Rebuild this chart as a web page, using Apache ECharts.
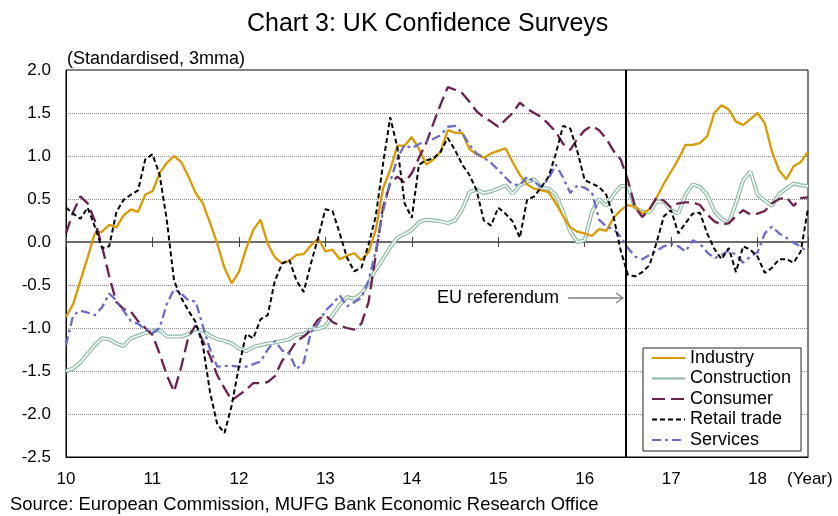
<!DOCTYPE html>
<html>
<head>
<meta charset="utf-8">
<script src="https://cdn.jsdelivr.net/npm/echarts@6/dist/echarts.min.js"></script>
<style>
  html, body { margin: 0; padding: 0; background: #fff; }
  #chart { width: 838px; height: 516px; }
</style>
</head>
<body>
<div id="chart"></div>
<script>
// Monthly survey balances, standardised, 3-month moving average; Jan 2010 onwards
const yearLabels = ['10', '11', '12', '13', '14', '15', '16', '17', '18'];
const yTicks = [-2.5, -2.0, -1.5, -1.0, -0.5, 0.0, 0.5, 1.0, 1.5, 2.0];

const industry = [
  -0.87, -0.72, -0.45, -0.18, 0.10, 0.12, 0.20, 0.17, 0.31, 0.38, 0.35, 0.55,
  0.59, 0.80, 0.92, 1.00, 0.93, 0.76, 0.57, 0.45, 0.22, -0.02, -0.30, -0.48,
  -0.35, -0.08, 0.14, 0.26, -0.02, -0.18, -0.25, -0.22, -0.15, -0.14, -0.04, 0.04,
  -0.11, -0.09, -0.20, -0.16, -0.13, -0.21, -0.12, 0.14, 0.62, 0.84, 1.12, 1.12,
  1.22, 1.08, 0.90, 0.96, 1.05, 1.30, 1.27, 1.27, 1.08, 1.02, 0.98, 1.03,
  1.06, 1.09, 0.93, 0.78, 0.67, 0.62, 0.60, 0.58, 0.45, 0.30, 0.17, 0.12,
  0.10, 0.07, 0.15, 0.13, 0.28, 0.37, 0.43, 0.41, 0.33, 0.38, 0.52, 0.68,
  0.82, 0.96, 1.13, 1.13, 1.15, 1.23, 1.50, 1.59, 1.54, 1.40, 1.36, 1.43,
  1.50, 1.38, 1.05, 0.83, 0.73, 0.88, 0.93, 1.05
];

const construction = [
  -1.50, -1.47, -1.40, -1.30, -1.20, -1.12, -1.13, -1.18, -1.21, -1.12, -1.09, -1.06,
  -1.04, -1.02, -1.10, -1.10, -1.10, -1.07, -1.01, -1.03, -1.09, -1.13, -1.15, -1.18,
  -1.24, -1.27, -1.22, -1.20, -1.18, -1.17, -1.15, -1.13, -1.08, -1.07, -1.02, -1.01,
  -0.98, -0.85, -0.73, -0.64, -0.66, -0.60, -0.48, -0.32, -0.20, -0.06, 0.05, 0.09,
  0.14, 0.23, 0.26, 0.25, 0.24, 0.22, 0.25, 0.38, 0.58, 0.61, 0.57, 0.59,
  0.62, 0.66, 0.56, 0.66, 0.70, 0.73, 0.63, 0.62, 0.55, 0.35, 0.12, 0.00,
  0.02, 0.35, 0.50, 0.42, 0.55, 0.65, 0.65, 0.40, 0.35, 0.35, 0.47, 0.47,
  0.37, 0.33, 0.55, 0.67, 0.64, 0.55, 0.36, 0.27, 0.22, 0.45, 0.72, 0.82,
  0.55, 0.48, 0.42, 0.56, 0.62, 0.68, 0.66, 0.65
];

const consumer = [
  0.10, 0.35, 0.53, 0.45, 0.25, -0.05, -0.40, -0.70, -0.78, -0.81, -0.92, -1.00,
  -1.08, -1.30, -1.55, -1.74, -1.45, -1.10, -0.97, -1.15, -1.33, -1.55, -1.70, -1.84,
  -1.78, -1.72, -1.64, -1.64, -1.63, -1.56, -1.38, -1.28, -1.15, -1.10, -1.02, -0.90,
  -0.85, -0.93, -0.97, -1.00, -1.02, -0.95, -0.70, -0.15, 0.40, 0.68, 0.76, 0.69,
  0.80, 0.98, 1.15, 1.38, 1.60, 1.80, 1.77, 1.73, 1.63, 1.52, 1.45, 1.40,
  1.34, 1.42, 1.50, 1.62, 1.55, 1.50, 1.45, 1.37, 1.28, 1.14, 1.07, 1.20,
  1.30, 1.35, 1.30, 1.20, 1.06, 0.96, 0.72, 0.40, 0.29, 0.38, 0.52, 0.48,
  0.40, 0.45, 0.46, 0.46, 0.43, 0.32, 0.24, 0.20, 0.22, 0.30, 0.37, 0.32,
  0.33, 0.36, 0.45, 0.50, 0.52, 0.42, 0.51, 0.52
];

const retail = [
  0.40, 0.33, 0.27, 0.40, 0.18, -0.07, -0.05, 0.35, 0.49, 0.55, 0.60, 0.96,
  1.02, 0.78, 0.25, -0.45, -0.65, -0.80, -0.93, -1.20, -1.75, -2.12, -2.22, -1.90,
  -1.45, -1.07, -1.12, -0.90, -0.85, -0.45, -0.25, -0.21, -0.45, -0.58, -0.25, 0.05,
  0.38, 0.36, 0.10, -0.18, -0.34, -0.30, -0.03, 0.30, 0.90, 1.45, 1.10, 0.45,
  0.28, 0.90, 0.95, 0.97, 1.05, 1.21, 1.07, 0.90, 0.78, 0.60, 0.25, 0.19,
  0.40, 0.33, 0.24, 0.05, 0.49, 0.53, 0.64, 0.76, 1.03, 1.35, 1.32, 1.05,
  0.72, 0.68, 0.64, 0.55, 0.30, -0.10, -0.38, -0.40, -0.35, -0.27, 0.00, 0.30,
  0.37, 0.10, 0.22, 0.33, 0.34, 0.10, -0.08, -0.20, -0.07, -0.35, -0.05, -0.09,
  -0.17, -0.36, -0.30, -0.20, -0.20, -0.24, -0.11, 0.39
];

const services = [
  -1.20, -0.85, -0.80, -0.82, -0.85, -0.76, -0.60, -0.68, -0.80, -0.92, -0.95, -1.02,
  -1.06, -1.00, -0.72, -0.55, -0.60, -0.68, -0.69, -0.98, -1.25, -1.45, -1.44, -1.44,
  -1.45, -1.45, -1.42, -1.39, -1.25, -1.15, -1.26, -1.30, -1.48, -1.40, -1.05, -0.95,
  -0.80, -0.72, -0.62, -0.75, -0.70, -0.65, -0.45, -0.10, 0.35, 0.70, 0.97, 1.13,
  1.09, 1.14, 1.17, 1.20, 1.24, 1.34, 1.35, 1.27, 1.13, 1.03, 0.98, 0.92,
  0.84, 0.75, 0.67, 0.66, 0.76, 0.70, 0.64, 0.74, 0.90, 0.75, 0.57, 0.66,
  0.63, 0.58, 0.26, 0.18, 0.15, 0.06, -0.07, -0.17, -0.20, -0.15, -0.10, -0.05,
  -0.02, -0.05, -0.11, 0.02, -0.02, -0.12, -0.19, -0.15, -0.10, -0.15, -0.24, -0.17,
  -0.12, 0.10, 0.18, 0.10, 0.05, -0.01, -0.05, -0.13
];

// EU referendum: 23 June 2016, in months after January 2010
const referendumMonth = 77.75;
const referendumLabelLevel = -0.65;

const FONT = '"Liberation Sans", Arial, Helvetica, sans-serif';
const lastMonth = industry.length - 1;

function toPoints(values) {
  return values.map((v, i) => [i, v]);
}

const chart = echarts.init(document.getElementById('chart'), null, { renderer: 'canvas' });

const zeroAxisBase = {
  type: 'value', min: 0, max: lastMonth, interval: 12, position: 'bottom',
  axisLine: { show: true, onZero: true, onZeroAxisIndex: 0, lineStyle: { color: '#666', width: 1.5 } },
  axisLabel: { show: false },
  splitLine: { show: false }
};

chart.setOption({
  animation: false,
  backgroundColor: '#ffffff',
  textStyle: { fontFamily: FONT },
  title: [
    {
      text: 'Chart 3: UK Confidence Surveys',
      left: 242, top: 7,
      textStyle: { fontSize: 25, fontWeight: 'normal', color: '#000', fontFamily: FONT }
    },
    {
      text: '(Standardised, 3mma)',
      left: 62, top: 45,
      textStyle: { fontSize: 18, fontWeight: 'normal', color: '#000', fontFamily: FONT }
    }
  ],
  grid: {
    left: 66, right: 30, top: 70, bottom: 59,
    show: true, borderColor: '#000', borderWidth: 1, backgroundColor: 'transparent'
  },
  legend: {
    orient: 'vertical',
    left: 643, top: 348,
    padding: [1, 10, 2, 8],
    itemWidth: 33, itemHeight: 14, itemGap: 2.5,
    itemStyle: { opacity: 0 },
    backgroundColor: '#fff', borderColor: '#222', borderWidth: 1, borderRadius: 0,
    textStyle: { fontSize: 18, color: '#000', fontFamily: FONT, lineHeight: 18 },
    data: ['Industry', 'Construction', 'Consumer', 'Retail trade', 'Services']
  },
  xAxis: [
    {
      type: 'value', min: 0, max: lastMonth, interval: 12, position: 'bottom',
      axisLine: { show: true, onZero: false, lineStyle: { color: '#000', width: 1 } },
      axisTick: { show: false },
      splitLine: { show: false },
      axisLabel: {
        fontSize: 17, color: '#000', margin: 14, fontFamily: FONT,
        formatter: v => (v % 12 === 0 ? yearLabels[v / 12] : '')
      }
    },
    Object.assign({}, zeroAxisBase, {
      axisTick: { show: true, length: 5, lineStyle: { color: '#444', width: 1 } }
    }),
    Object.assign({}, zeroAxisBase, {
      axisTick: { show: true, inside: true, length: 5, lineStyle: { color: '#444', width: 1 } }
    })
  ],
  yAxis: {
    type: 'value', min: yTicks[0], max: yTicks[yTicks.length - 1], interval: 0.5,
    axisLine: { show: true, onZero: false, lineStyle: { color: '#000', width: 1 } },
    axisTick: { show: false },
    splitLine: { show: true, lineStyle: { color: '#8a8a8a', type: 'dotted', width: 1 } },
    axisLabel: {
      fontSize: 17, color: '#000', margin: 15, fontFamily: FONT,
      formatter: v => v.toFixed(1)
    }
  },
  series: [
    {
      name: 'Construction', type: 'line', data: toPoints(construction),
      symbol: 'none', z: 2,
      lineStyle: { color: '#8cb9a3', width: 4 },
      itemStyle: { color: '#8cb9a3' }
    },
    {
      // light core that gives the construction line its double-stroke look
      name: 'construction-core', type: 'line', data: toPoints(construction),
      symbol: 'none', z: 2, silent: true,
      lineStyle: { color: '#f4faf6', width: 1.7 },
      itemStyle: { color: '#f4faf6' }
    },
    {
      name: 'Industry', type: 'line', data: toPoints(industry),
      symbol: 'none', z: 3,
      lineStyle: { color: '#d99a00', width: 2.3 },
      itemStyle: { color: '#d99a00' },
      markLine: {
        silent: true, symbol: ['none', 'none'],
        label: { show: false },
        lineStyle: { color: '#000', width: 2, type: 'solid' },
        data: [{ xAxis: referendumMonth }]
      }
    },
    {
      name: 'Consumer', type: 'line', data: toPoints(consumer),
      symbol: 'none', z: 3,
      lineStyle: { color: '#6b2150', width: 2.3, type: [13, 6] },
      itemStyle: { color: '#6b2150' }
    },
    {
      name: 'Services', type: 'line', data: toPoints(services),
      symbol: 'none', z: 3,
      lineStyle: { color: '#6b6bc6', width: 2.3, type: [9, 4, 3, 4] },
      itemStyle: { color: '#6b6bc6' }
    },
    {
      name: 'Retail trade', type: 'line', data: toPoints(retail),
      symbol: 'none', z: 4,
      lineStyle: { color: '#000', width: 2, type: [5, 3] },
      itemStyle: { color: '#000' }
    }
  ]
});

// Annotation pointing at the referendum line
const refX = chart.convertToPixel({ xAxisIndex: 0 }, referendumMonth);
const refY = chart.convertToPixel({ yAxisIndex: 0 }, referendumLabelLevel);

chart.setOption({
  graphic: [
    {
      type: 'text', left: 787, top: 471, silent: true,
      style: { text: '(Year)', fontSize: 17, fill: '#000', fontFamily: FONT }
    },
    {
      type: 'text', left: 10, top: 496, silent: true,
      style: {
        text: 'Source: European Commission, MUFG Bank Economic Research Office',
        fontSize: 18.4, fill: '#000', fontFamily: FONT
      }
    },
    {
      type: 'text', x: refX - 67, y: refY, silent: true, z: 10,
      style: {
        text: 'EU referendum', fontSize: 18, fill: '#000', fontFamily: FONT,
        align: 'right', verticalAlign: 'middle'
      }
    },
    {
      type: 'line', silent: true, z: 10,
      shape: { x1: refX - 58, y1: refY, x2: refX - 3, y2: refY },
      style: { stroke: '#808080', lineWidth: 1.5 }
    },
    {
      type: 'polyline', silent: true, z: 10,
      shape: { points: [[refX - 10, refY - 5], [refX - 3, refY], [refX - 10, refY + 5]] },
      style: { stroke: '#808080', lineWidth: 1.2, fill: null }
    }
  ]
});
</script>
</body>
</html>
